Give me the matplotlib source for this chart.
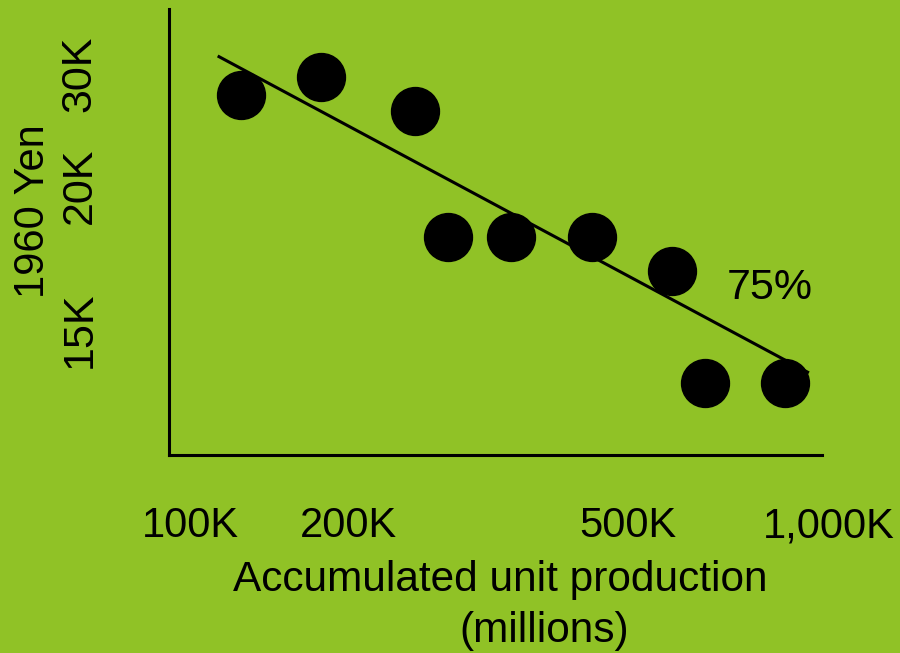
import matplotlib
matplotlib.use("Agg")
import matplotlib.pyplot as plt

plt.rcParams['font.family'] = ['Liberation Sans', 'DejaVu Sans']

bg = '#90C226'

# accumulated units (thousands) and unit price (thousand 1960 yen)
units = [120, 160, 225, 253, 318, 425, 568, 638, 851]
price = [27.8, 29.6, 26.2, 16.6, 16.6, 16.6, 14.7, 9.8, 9.8]

# 75% learning curve trend line
trend_units = [111, 924]
trend_price = [31.9, 10.2]

xtick_pos = [100, 177, 484, 997]
xtick_labels = ['100K', '200K', '500K', '1,000K']
ytick_pos = [11.9, 20, 30]
ytick_labels = ['15K', '20K', '30K']

fig = plt.figure(figsize=(9, 6.53), dpi=100)
fig.patch.set_facecolor(bg)
# axes box runs a bit past the drawn x axis so the last label fits
ax = fig.add_axes([169 / 900, 1 - 455 / 653, 687 / 900, 446 / 653])
ax.set_facecolor(bg)

ax.plot(trend_units, trend_price, color='black', lw=2.2, zorder=2)
ax.plot(units, price, 'o', color='black', ms=34.5, zorder=3)

ax.set_xscale('log')
ax.set_yscale('log')

ax.xaxis.set_minor_locator(matplotlib.ticker.NullLocator())
ax.yaxis.set_minor_locator(matplotlib.ticker.NullLocator())
ax.set_xticks(xtick_pos)
ax.set_xticklabels(xtick_labels, fontsize=30)
ax.set_yticks(ytick_pos)
ax.set_yticklabels(ytick_labels, fontsize=31, rotation=90, va='center')
ax.tick_params(axis='x', length=0, pad=37)
ax.tick_params(axis='y', length=0, pad=50)

ax.set_xlim(92.7, 1100)
ax.set_ylim(7.56, 37.9)

for s in ['top', 'right']:
    ax.spines[s].set_visible(False)
for s in ['left', 'bottom']:
    ax.spines[s].set_linewidth(2.2)
    ax.spines[s].set_color('black')
ax.spines['bottom'].set_bounds(92.7, 975)

ax.text(806, 13.3, '75%', fontsize=31, ha='center', va='baseline')

fig.text(500 / 900, 1 - 591 / 653, 'Accumulated unit production', fontsize=30.5,
         ha='center', va='baseline')
fig.text(544 / 900, 1 - 642 / 653, '(millions)', fontsize=30.5,
         ha='center', va='baseline')
fig.text(44 / 900, 1 - 211 / 653, '1960 Yen', fontsize=30, rotation=90,
         ha='center', va='baseline', rotation_mode='anchor')

fig.savefig('out.png', dpi=100, facecolor=bg)
